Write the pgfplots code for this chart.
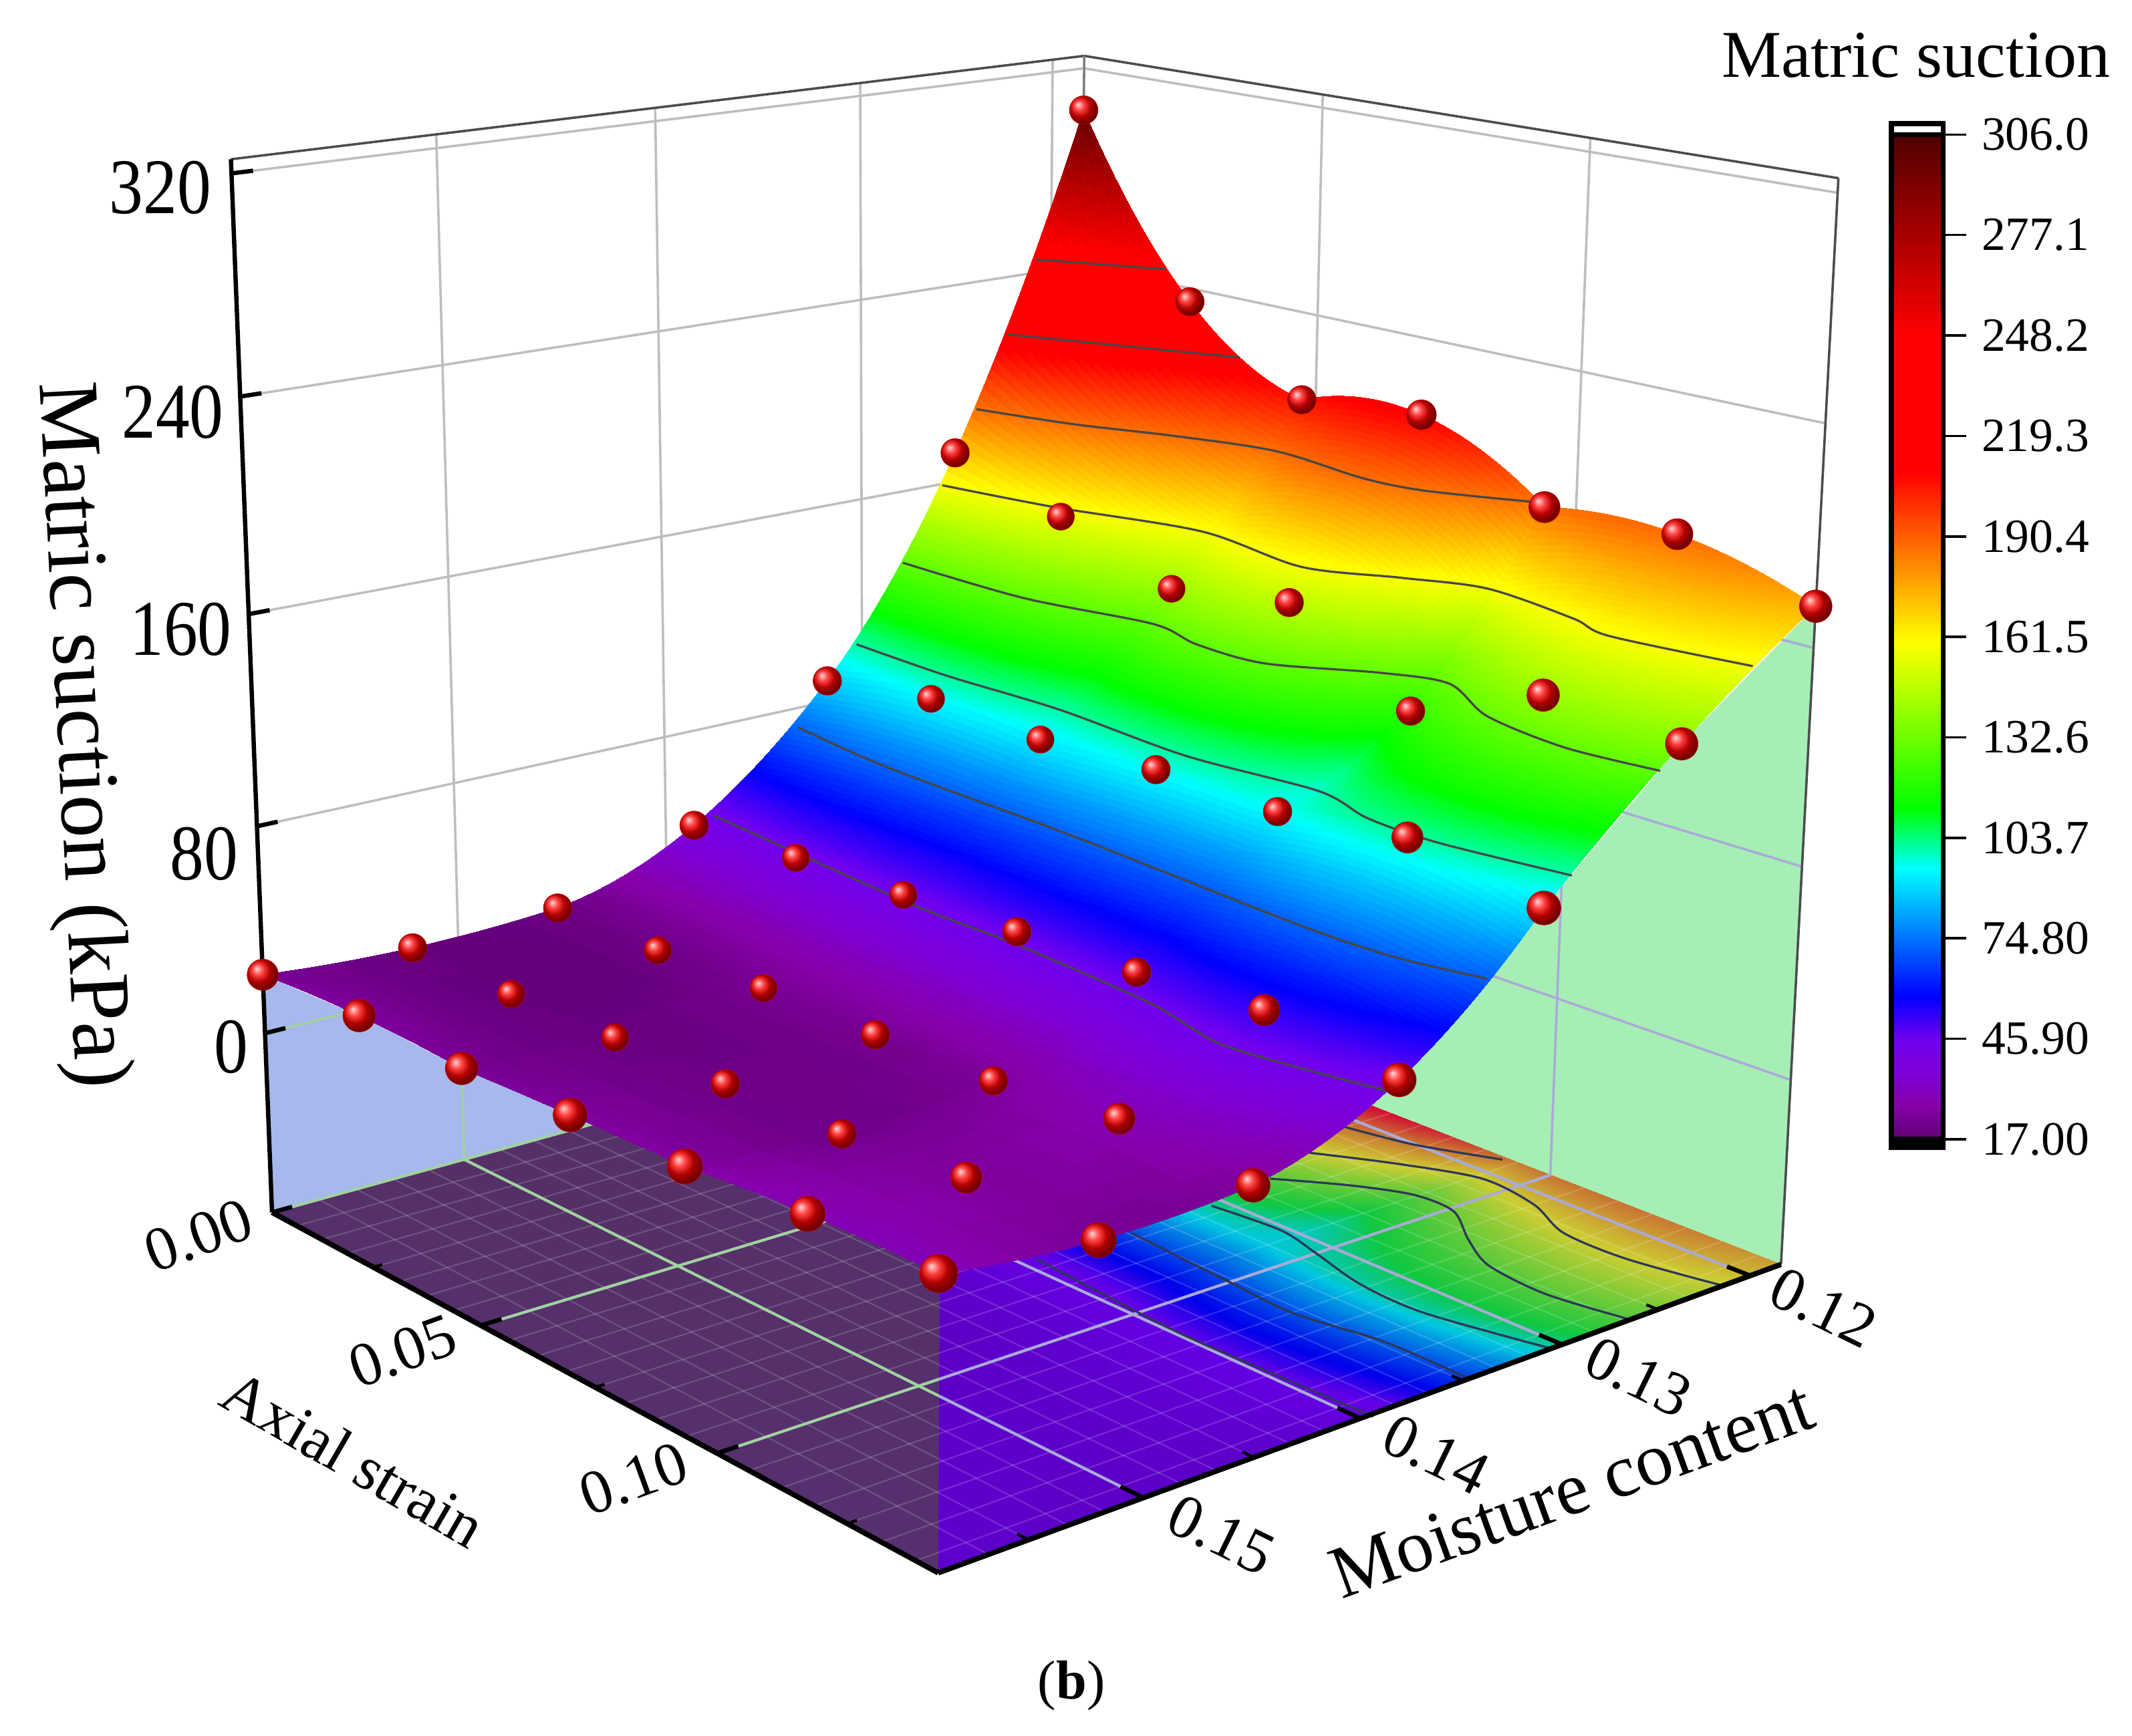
\documentclass[border=0pt]{standalone}
\usepackage{fontspec}
\setmainfont{Liberation Serif}
\usepackage{pgfplots}
\usepackage{pgfplotstable}
\usepgfplotslibrary{patchplots}
\pgfplotsset{compat=1.18}

% measured points: axial strain, moisture content, suction (kPa), sphere radius (px)
\pgfplotstableread{
e m s r
0.0000 0.1183 303.2 10.5
0.0000 0.1251 171.8 10.5
0.0000 0.1318 88.5 10.5
0.0000 0.1386 41.5 10.5
0.0000 0.1453 21.1 10.5
0.0000 0.1521 19.2 10.5
0.0000 0.1588 22.8 11.5
0.0236 0.1183 234.6 10.5
0.0236 0.1251 157.5 10
0.0236 0.1318 95.1 10
0.0236 0.1386 44.0 10
0.0236 0.1453 20.9 10
0.0236 0.1521 18.3 10
0.0236 0.1588 24.6 12
0.0472 0.1183 205.7 10.5
0.0472 0.1251 141.1 10
0.0472 0.1318 93.2 10
0.0472 0.1386 45.5 10
0.0472 0.1453 23.3 10
0.0472 0.1521 19.4 10
0.0472 0.1588 22.9 12
0.0708 0.1183 210.6 11
0.0708 0.1251 148.6 10.5
0.0708 0.1318 96.2 10.5
0.0708 0.1386 47.8 10.5
0.0708 0.1453 23.3 10.5
0.0708 0.1521 20.4 10.5
0.0708 0.1588 24.6 12.5
0.0943 0.1183 186.7 11.5
0.0943 0.1251 120.8 10.5
0.0943 0.1318 95.4 10.5
0.0943 0.1386 49.5 10.5
0.0943 0.1453 24.4 10.5
0.0943 0.1521 21.0 10.5
0.0943 0.1588 25.5 13
0.1179 0.1183 188.6 11.5
0.1179 0.1251 140.8 12
0.1179 0.1318 101.4 11.5
0.1179 0.1386 53.1 11.5
0.1179 0.1453 29.5 11.5
0.1179 0.1521 25.0 11.5
0.1179 0.1588 29.0 13
0.1415 0.1183 175.0 12
0.1415 0.1251 137.5 12
0.1415 0.1318 92.2 12.5
0.1415 0.1386 46.4 12.5
0.1415 0.1453 25.5 12.5
0.1415 0.1521 23.6 13
0.1415 0.1588 29.5 14
}\grid

% perspective of the box, fitted to its corners; picture is 1568 x 1277 units
\newcommand{\al}{(1-\thisrow{e}/0.1415)}
\newcommand{\be}{((0.1588-\thisrow{m})/0.0405)}
\newcommand{\ga}{((\thisrow{s}+70.9)/393.7)}
\pgfplotsset{
  table/project/.style={
    x expr={(690-450.6*\al+828.1*\be+4.5*\al*\be-48.1*\ga)/(1+0.1967*\al+0.159*\be-0.07156*\ga)},
    y expr={(1157-89.7*\al-79*\be-930.3*\ga)/(1+0.1967*\al+0.159*\be-0.07156*\ga)},
    z expr=0},
  table/floor/.style={
    x expr={(690-450.6*\al+828.1*\be+4.5*\al*\be)/(1+0.1967*\al+0.159*\be)},
    y expr={(1157-89.7*\al-79*\be)/(1+0.1967*\al+0.159*\be)},
    z expr=0},
  trace/.style={no marks,smooth,color=#1,line width=0.45pt},
  % nine quadratic patches through the 7 x 7 measured points
  smooth surface/.style={
    patch,patch type=biquadratic,patch refines=3,shader=interp,point meta=explicit,
    table/row sep=\\,
    patch table={
      0 14 16 2 7 15 9 1 8\\
      2 16 18 4 9 17 11 3 10\\
      4 18 20 6 11 19 13 5 12\\
      14 28 30 16 21 29 23 15 22\\
      16 30 32 18 23 31 25 17 24\\
      18 32 34 20 25 33 27 19 26\\
      28 42 44 30 35 43 37 29 36\\
      30 44 46 32 37 45 39 31 38\\
      32 46 48 34 39 47 41 33 40\\}},
}
\definecolor{gridgray}{RGB}{190,190,190}
\definecolor{lav}{RGB}{170,170,215}
\definecolor{lgreen}{RGB}{160,210,160}
\definecolor{wallblue}{RGB}{166,184,236}
\definecolor{wallgreen}{RGB}{166,238,182}
\definecolor{onsurf}{RGB}{70,70,70}
\definecolor{onfloor}{RGB}{45,55,90}

% a straight piece between two points given as strain, moisture, suction
\newcommand{\seg}[7]{\addplot3[no marks,#1] table[project,row sep=\\]{e m s\\#2 #3 #4\\#5 #6 #7\\};}
% a contour
\newcommand{\contour}[2]{\addplot3[trace=#1] table[x index=0,y index=1,z expr=0,header=false,row sep=\\]{#2};}
\newcommand{\lab}[4]{\node[#1] at (axis cs:#2,#3,0) {#4};}

\begin{document}
\begin{tikzpicture}
\useasboundingbox (0,0) rectangle (15.68,12.77);
\begin{axis}[
  at={(0,0)},anchor=south west,
  scale only axis,width=15.68cm,height=12.77cm,
  view={0}{90},
  axis lines=none,
  clip=false,
  xmin=0,xmax=1568,ymin=0,ymax=1277,zmin=-1,zmax=1,
  y dir=reverse,
  point meta min=17,point meta max=306,
  colormap={suction}{
    rgb255(17pt)=(95,0,115);
    rgb255(27pt)=(135,0,170);
    rgb255(36pt)=(125,0,215);
    rgb255(46pt)=(112,0,240);
    rgb255(58pt)=(0,0,255);
    rgb255(95pt)=(0,255,255);
    rgb255(112pt)=(0,255,0);
    rgb255(160pt)=(255,255,0);
    rgb255(190pt)=(255,96,0);
    rgb255(209pt)=(255,0,0);
    rgb255(248pt)=(255,0,0);
    rgb255(306pt)=(80,0,0)},
  colormap={suctionfloor}{
    rgb255(17pt)=(90,0,190);
    rgb255(46pt)=(100,0,230);
    rgb255(58pt)=(0,0,235);
    rgb255(95pt)=(0,200,225);
    rgb255(112pt)=(16,200,64);
    rgb255(160pt)=(205,205,50);
    rgb255(190pt)=(200,110,50);
    rgb255(209pt)=(210,20,50);
    rgb255(248pt)=(210,20,50);
    rgb255(306pt)=(100,0,30)},
  colormap name=suction,
  colorbar,
  colorbar style={
    colormap name=suction,
    at={(1391/1568,439/1277)},anchor=south west,
    scale only axis,width=0.38cm,height=7.39cm,
    axis lines=box,
    ytick pos=right,
    ytick={17,45.9,74.8,103.7,132.6,161.5,190.4,219.3,248.2,277.1,306},
    yticklabels={17.00,45.90,74.80,103.7,132.6,161.5,190.4,219.3,248.2,277.1,306.0},
    yticklabel style={font=\fontsize{10}{12}\selectfont,xshift=-0.1mm},
    tick align=outside,major tick length=1.7mm,
    tick style={black,line width=0.5pt},
    axis line style={black,line width=1pt},
  },
]
% back walls: gray grid
\seg{gridgray,line width=0.5pt}{0}{0.15}{20}{0}{0.15}{325}
\seg{gridgray,line width=0.5pt}{0}{0.14}{-70.9}{0}{0.14}{325}
\seg{gridgray,line width=0.5pt}{0}{0.13}{-70.9}{0}{0.13}{325}
\seg{gridgray,line width=0.5pt}{0}{0.12}{-70.9}{0}{0.12}{325}
\seg{gridgray,line width=0.5pt}{0.05}{0.1183}{-70.9}{0.05}{0.1183}{325}
\seg{gridgray,line width=0.5pt}{0.10}{0.1183}{130}{0.10}{0.1183}{325}
\pgfplotsinvokeforeach{80,160,240,320}{
  \seg{gridgray,line width=0.5pt}{0}{0.1588}{#1}{0}{0.1183}{#1}
}
\seg{gridgray,line width=0.5pt}{0}{0.1183}{240}{0.1415}{0.1183}{240}
\seg{gridgray,line width=0.5pt}{0}{0.1183}{320}{0.1415}{0.1183}{320}
% side walls under the outer edges of the surface
\addplot3[fill=wallblue,draw=none] table[project,row sep=\\]{e m s\\
0 0.1588 -70.9\\0 0.1588 22.8\\0.0236 0.1588 24.6\\0.0472 0.1588 22.9\\0.0708 0.1588 24.6\\
0.0943 0.1588 25.5\\0.1179 0.1588 29.0\\0.1415 0.1588 29.5\\0.1415 0.1588 -70.9\\} -- cycle;
\addplot3[fill=wallgreen,draw=none] table[project,row sep=\\]{e m s\\
0.1415 0.1588 -70.9\\0.1415 0.1588 29.5\\0.1415 0.1521 23.6\\0.1415 0.1453 25.5\\0.1415 0.1386 46.4\\
0.1415 0.1318 92.2\\0.1415 0.1251 137.5\\0.1415 0.1183 175.0\\0.1415 0.1183 -70.9\\} -- cycle;
% grid seen through the walls
\seg{lgreen,line width=0.5pt}{0}{0.15}{-70.9}{0}{0.15}{20}
\seg{lgreen,line width=0.5pt}{0}{0.1588}{0}{0}{0.14}{0}
\seg{lav,line width=0.5pt}{0.10}{0.1183}{-70.9}{0.10}{0.1183}{130}
\seg{lav,line width=0.5pt}{0}{0.1183}{0}{0.1415}{0.1183}{0}
\seg{lav,line width=0.5pt}{0}{0.1183}{80}{0.1415}{0.1183}{80}
\seg{lav,line width=0.5pt}{0}{0.1183}{160}{0.1415}{0.1183}{160}
% projection on the floor
\addplot3[smooth surface,colormap name=suctionfloor] table[floor,meta=s] {\grid};
\addplot3[fill={rgb,255:red,80;green,96;blue,16},fill opacity=0.5,draw=none] table[project,row sep=\\]{e m s\\
0 0.1588 -70.9\\0.1415 0.1588 -70.9\\0 0.1258 -70.9\\} -- cycle;
% fine floor mesh
\pgfplotsinvokeforeach{0.00625,0.0125,0.01875,0.025,0.03125,0.0375,0.04375,0.05,0.05625,0.0625,0.06875,0.075,0.08125,0.0875,0.09375,0.10,0.10625,0.1125,0.11875,0.125,0.13125,0.1375}{
  \seg{white,opacity=0.16,line width=0.3pt}{#1}{0.1183}{-70.9}{#1}{0.1588}{-70.9}
}
\pgfplotsinvokeforeach{0.12,0.1217,0.1233,0.125,0.1267,0.1283,0.13,0.1317,0.1333,0.135,0.1367,0.1383,0.14,0.1417,0.1433,0.145,0.1467,0.1483,0.15,0.1517,0.1533,0.155,0.1567}{
  \seg{white,opacity=0.16,line width=0.3pt}{0}{#1}{-70.9}{0.1415}{#1}{-70.9}
}
% floor grid
\seg{lgreen,line width=0.6pt}{0}{0.1588}{-70.9}{0}{0.1258}{-70.9}
\seg{lav,line width=0.6pt}{0.05}{0.1183}{-70.9}{0.05}{0.1374}{-70.9}
\seg{lgreen,line width=0.6pt}{0.05}{0.1374}{-70.9}{0.05}{0.1588}{-70.9}
\seg{lav,line width=0.6pt}{0.10}{0.1183}{-70.9}{0.10}{0.1491}{-70.9}
\seg{lgreen,line width=0.6pt}{0.10}{0.1491}{-70.9}{0.10}{0.1588}{-70.9}
\seg{lav,line width=0.6pt}{0}{0.12}{-70.9}{0.1415}{0.12}{-70.9}
\seg{lav,line width=0.6pt}{0}{0.13}{-70.9}{0.1415}{0.13}{-70.9}
\seg{lav,line width=0.6pt}{0}{0.14}{-70.9}{0.1415}{0.14}{-70.9}
\seg{lgreen,line width=0.6pt}{0}{0.15}{-70.9}{0.1039}{0.15}{-70.9}
\seg{lav,line width=0.6pt}{0.1039}{0.15}{-70.9}{0.1415}{0.15}{-70.9}
% floor contours
\contour{onfloor}{989 829\\1040 842\\1105 853\\}
\contour{onfloor}{963 848\\1027 856\\1090 867\\1128 886\\1150 907\\1196 926\\1268 946\\}
\contour{onfloor}{934 867\\993 872\\1040 879\\1069 891\\1080 912\\1095 931\\1137 952\\1200 971\\}
\contour{onfloor}{891 887\\942 905\\968 922\\1001 945\\1048 966\\1141 992\\}
\contour{onfloor}{832 907\\904 943\\951 966\\1018 987\\1078 1013\\}
\contour{onfloor}{762 926\\862 978\\942 1013\\1010 1042\\}
% surface
\addplot3[smooth surface,colormap name=suction] table[project,meta=s] {\grid};
% contours on the surface
\contour{onsurf}{762 191\\857 198\\}
\contour{onsurf}{741 246\\821 254\\912 263\\}
\contour{onsurf}{718 301\\789 312\\866 321\\939 332\\1003 352\\1048 361\\1125 369\\}
\contour{onsurf}{693 357\\775 373\\884 391\\957 417\\1030 425\\1094 433\\1157 455\\1184 468\\1289 490\\}
\contour{onsurf}{664 414\\753 440\\848 459\\880 474\\930 488\\1016 495\\1066 503\\1094 527\\1151 550\\1221 567\\}
\contour{onsurf}{630 474\\696 497\\779 522\\872 556\\970 582\\1006 602\\1058 620\\1156 644\\}
\contour{onsurf}{587 535\\654 565\\789 615\\949 678\\1022 703\\1094 720\\}
\contour{onsurf}{525 600\\670 665\\748 695\\846 738\\903 770\\1019 802\\}
% measured points
\addplot3[scatter,only marks,point meta=\thisrow{s},
  visualization depends on={0.2845*\thisrow{r}\as\rad},
  scatter/@pre marker code/.code={\scope[mark=ball,ball color=red,mark size=\rad pt]\pgfsetstrokecolor{red!75!black}\pgfsetlinewidth{0.1pt}},
  scatter/@post marker code/.code={\endscope}]
  table[project] {\grid};
% box edges
\seg{black!70,line width=0.5pt}{0}{0.1588}{325}{0}{0.1183}{325}
\seg{black!70,line width=0.5pt}{0}{0.1183}{325}{0.1415}{0.1183}{325}
\seg{black!70,line width=0.5pt}{0.1415}{0.1183}{325}{0.1415}{0.1183}{-70.9}
\seg{black!50,line width=0.5pt}{0}{0.1183}{325}{0}{0.1183}{303}
\seg{black,line width=0.9pt}{0}{0.1588}{-70.9}{0}{0.1588}{325}
\seg{black,line width=1.1pt}{0}{0.1588}{-70.9}{0.1415}{0.1588}{-70.9}
\seg{black,line width=1.1pt}{0.1415}{0.1588}{-70.9}{0.1415}{0.1183}{-70.9}
% ticks
\pgfplotsinvokeforeach{0,80,160,240,320}{
  \seg{black,line width=0.9pt}{0}{0.1588}{#1}{0}{0.1579}{#1}
}
\pgfplotsinvokeforeach{0,0.05,0.10}{
  \seg{black,line width=0.9pt}{#1}{0.1588}{-70.9}{#1}{0.1579}{-70.9}
}
\pgfplotsinvokeforeach{0.025,0.075,0.125}{
  \seg{black,line width=0.6pt}{#1}{0.1588}{-70.9}{#1}{0.1584}{-70.9}
}
\pgfplotsinvokeforeach{0.12,0.13,0.14,0.15}{
  \seg{black,line width=0.9pt}{0.1415}{#1}{-70.9}{0.1375}{#1}{-70.9}
}
\pgfplotsinvokeforeach{0.125,0.135,0.145,0.155}{
  \seg{black,line width=0.6pt}{0.1415}{#1}{-70.9}{0.1395}{#1}{-70.9}
}
% colour bar caps
\draw[black,line width=1pt] (axis cs:1391,91,0) rectangle (axis cs:1429,99,0);
\fill[black] (axis cs:1389,838,0) rectangle (axis cs:1431,846,0);
% text
\lab{font=\fontsize{16.5}{18}\selectfont,xscale=0.86}{118}{138}{320}
\lab{font=\fontsize{16.5}{18}\selectfont,xscale=0.86}{127}{303}{240}
\lab{font=\fontsize{16.5}{18}\selectfont,xscale=0.86}{133}{463}{160}
\lab{font=\fontsize{16.5}{18}\selectfont,xscale=0.86}{150}{628}{80}
\lab{font=\fontsize{16.5}{18}\selectfont,xscale=0.86}{170}{770}{0}
\lab{font=\fontsize{18}{20}\selectfont,rotate=-87}{58}{541}{Matric suction (kPa)}
\lab{font=\fontsize{14}{16}\selectfont}{1409}{41}{Matric suction}
\lab{font=\fontsize{13}{15}\selectfont,rotate=20}{146}{909}{0.00}
\lab{font=\fontsize{13}{15}\selectfont,rotate=20}{296}{994}{0.05}
\lab{font=\fontsize{13}{15}\selectfont,rotate=20}{466}{1088}{0.10}
\lab{font=\fontsize{13}{15}\selectfont,rotate=-30}{260}{1073}{Axial strain}
\lab{font=\fontsize{13}{15}\selectfont,rotate=-26}{1341}{962}{0.12}
\lab{font=\fontsize{13}{15}\selectfont,rotate=-26}{1205}{1013}{0.13}
\lab{font=\fontsize{13}{15}\selectfont,rotate=-26}{1056}{1070}{0.14}
\lab{font=\fontsize{13}{15}\selectfont,rotate=-26}{898}{1129}{0.15}
\lab{font=\fontsize{15.6}{18}\selectfont,rotate=20}{1156}{1096}{Moisture content}
\lab{font=\fontsize{11.5}{13}\selectfont}{788}{1240}{(\textbf{b})}
\end{axis}
\end{tikzpicture}
\end{document}
